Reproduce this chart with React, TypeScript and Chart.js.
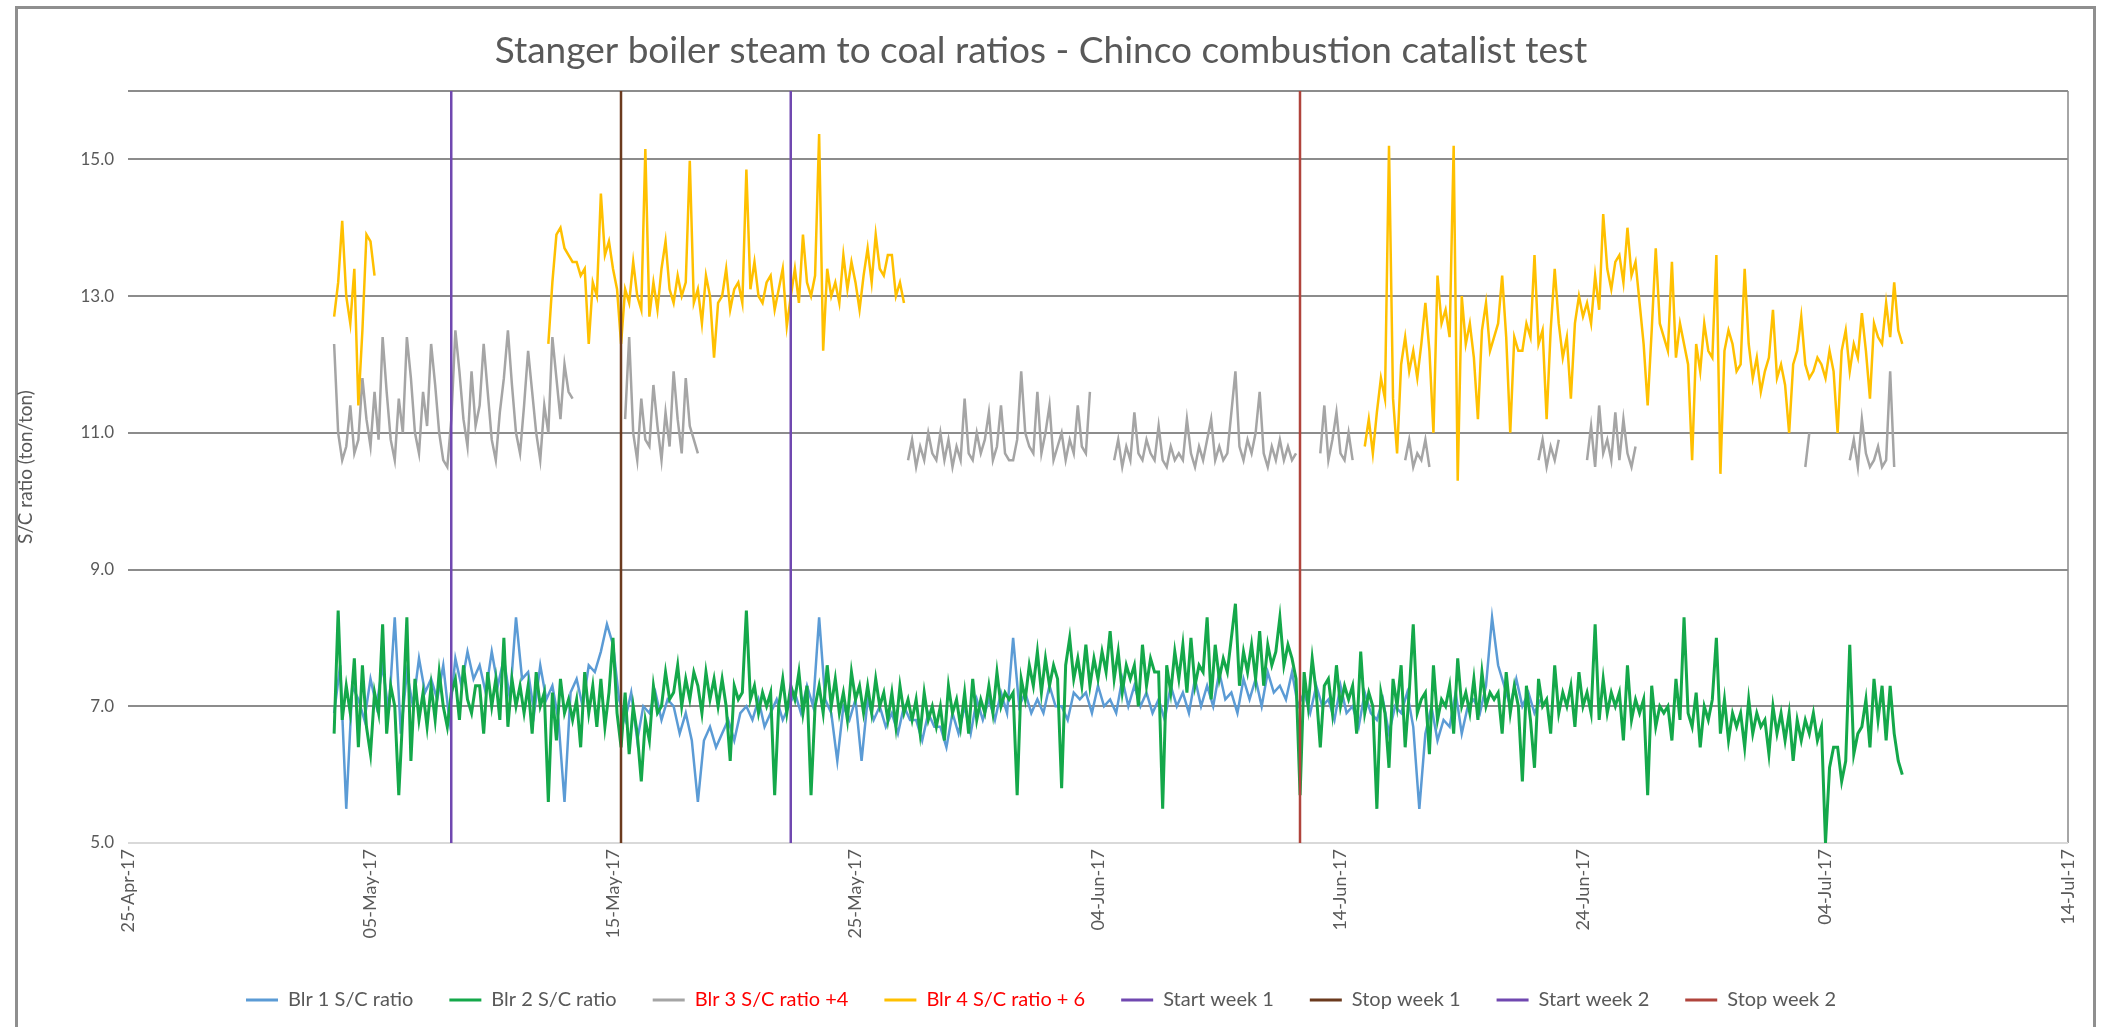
import { useEffect, useRef } from 'react';
import { Chart, registerables } from 'chart.js';

Chart.register(...registerables);

const _ = null;

// First reading 8.5 days after 25-Apr-17
const START_DAY = 8.5;
const STEP = 1 / 6; // Blr 2, 3, 4: every 4 hours
const STEP_BLR1 = 0.25; // Blr 1: every 6 hours

const seriesLabels = ['Blr 1 S/C ratio', 'Blr 2 S/C ratio', 'Blr 3 S/C ratio +4', 'Blr 4 S/C ratio + 6'];
const seriesColors = ['#5B9BD5', '#14A84A', '#A5A5A5', '#FFC000'];
const seriesWidths = [2.5, 3, 2.5, 2.5];

// Blr 1 S/C ratio (4 readings per day)
const blr1 = [
  6.9, 7.6, 5.5, 7.3, 7.1, 6.8, 7.4, 7.0, // 8.5, 9.5
  7.6, 6.9, 8.3, 6.6, 7.5, 7.0, 7.7, 7.2, // 10.5, 11.5
  7.4, 7.1, 7.6, 6.8, 7.7, 7.3, 7.8, 7.4, // 12.5, 13.5
  7.6, 7.2, 7.8, 7.3, 7.7, 7.1, 8.3, 7.4, // 14.5, 15.5
  7.5, 6.9, 7.6, 7.1, 7.3, 6.8, 5.6, 7.2, // 16.5, 17.5
  7.4, 7.0, 7.6, 7.5, 7.8, 8.2, 7.9, 7.1, // 18.5, 19.5
  6.8, 7.2, 6.5, 7.0, 6.9, 7.2, 6.8, 7.1, // 20.5, 21.5
  7.0, 6.6, 6.9, 6.5, 5.6, 6.5, 6.7, 6.4, // 22.5, 23.5
  6.6, 6.8, 6.5, 6.9, 7.0, 6.8, 7.1, 6.7, // 24.5, 25.5
  6.9, 7.1, 6.8, 7.0, 7.2, 6.9, 7.3, 7.0, // 26.5, 27.5
  8.3, 7.1, 6.9, 6.2, 7.0, 6.8, 7.1, 6.2, // 28.5, 29.5
  7.1, 6.8, 7.0, 6.7, 6.9, 6.6, 7.0, 6.8, // 30.5, 31.5
  6.8, 6.5, 6.9, 6.7, 6.7, 6.4, 6.9, 6.6, // 32.5, 33.5
  7.0, 6.6, 7.1, 6.8, 7.1, 6.8, 7.2, 6.9, // 34.5, 35.5
  8.0, 7.0, 7.2, 6.9, 7.1, 6.9, 7.3, 7.0, // 36.5, 37.5
  7.0, 6.8, 7.2, 7.1, 7.2, 6.9, 7.3, 7.0, // 38.5, 39.5
  7.1, 6.9, 7.4, 7.0, 7.3, 7.0, 7.2, 6.9, // 40.5, 41.5
  7.1, 6.8, 7.3, 7.0, 7.2, 6.9, 7.4, 7.0, // 42.5, 43.5
  7.3, 7.0, 7.5, 7.1, 7.2, 6.9, 7.4, 7.1, // 44.5, 45.5
  7.4, 7.0, 7.5, 7.2, 7.3, 7.1, 7.5, 7.0, // 46.5, 47.5
  7.2, 6.9, 7.3, 7.0, 7.1, 6.8, 7.3, 6.9, // 48.5, 49.5
  7.0, 6.7, 7.2, 6.9, 6.8, 7.1, 6.6, 7.0, // 50.5, 51.5
  6.9, 7.2, 6.7, 5.5, 6.6, 7.0, 6.5, 6.8, // 52.5, 53.5
  6.7, 7.2, 6.6, 7.0, 7.1, 6.9, 7.3, 8.3, // 54.5, 55.5
  7.6, 7.3, 7.0, 7.4, 7.0, 7.2, 6.9, 7.1, // 56.5, 57.5
];

// Blr 2 S/C ratio (6 readings per day, one row per day from 8.5)
const blr2 = [
  6.6, 8.4, 6.8, 7.3, 6.9, 7.7, // 8.5
  6.4, 7.6, 6.7, 6.3, 7.2, 6.9, // 9.5
  8.2, 6.6, 7.3, 7.0, 5.7, 6.9, // 10.5
  8.3, 6.2, 7.4, 6.8, 7.2, 6.7, // 11.5
  7.3, 6.8, 7.5, 7.0, 6.7, 7.2, // 12.5
  7.4, 6.8, 7.6, 7.1, 6.9, 7.3, // 13.5
  7.3, 6.6, 7.5, 7.0, 7.4, 6.8, // 14.5
  8.0, 6.7, 7.4, 7.0, 7.3, 6.9, // 15.5
  7.3, 6.6, 7.5, 7.0, 7.2, 5.6, // 16.5
  7.2, 6.5, 7.4, 6.9, 7.1, 6.8, // 17.5
  7.1, 6.4, 7.5, 6.9, 7.3, 6.7, // 18.5
  7.4, 6.7, 7.2, 8.0, 6.9, 6.4, // 19.5
  7.2, 6.3, 7.0, 6.6, 5.9, 6.8, // 20.5
  6.5, 7.3, 6.9, 7.0, 7.5, 7.1, // 21.5
  7.2, 7.6, 7.0, 7.4, 7.1, 7.5, // 22.5
  7.3, 6.9, 7.5, 7.1, 7.4, 7.0, // 23.5
  7.4, 7.0, 6.2, 7.3, 7.1, 7.2, // 24.5
  8.4, 7.1, 7.3, 6.9, 7.2, 7.0, // 25.5
  7.2, 5.7, 7.0, 7.4, 6.9, 7.3, // 26.5
  7.1, 7.5, 6.9, 7.3, 5.7, 7.0, // 27.5
  7.3, 6.9, 7.6, 7.0, 7.4, 6.9, // 28.5
  7.2, 6.8, 7.5, 7.1, 7.3, 6.9, // 29.5
  7.3, 6.9, 7.4, 7.0, 7.2, 6.8, // 30.5
  7.2, 6.7, 7.3, 6.9, 7.1, 6.8, // 31.5
  7.1, 6.6, 7.2, 6.8, 7.0, 6.7, // 32.5
  7.0, 6.5, 7.3, 6.9, 7.1, 6.7, // 33.5
  7.2, 6.6, 7.4, 6.8, 7.1, 6.9, // 34.5
  7.3, 6.9, 7.5, 7.0, 7.2, 7.1, // 35.5
  7.2, 5.7, 7.4, 7.1, 7.6, 7.3, // 36.5
  7.8, 7.2, 7.7, 7.3, 7.6, 7.4, // 37.5
  5.8, 7.6, 8.0, 7.4, 7.7, 7.3, // 38.5
  7.9, 7.3, 7.7, 7.4, 7.8, 7.5, // 39.5
  8.1, 7.4, 7.8, 7.2, 7.6, 7.4, // 40.5
  7.6, 7.0, 7.9, 7.3, 7.7, 7.5, // 41.5
  7.5, 5.5, 7.6, 7.2, 7.8, 7.4, // 42.5
  7.9, 7.2, 8.0, 7.3, 7.6, 7.5, // 43.5
  8.3, 7.1, 7.9, 7.4, 7.7, 7.5, // 44.5
  8.0, 8.5, 7.3, 7.8, 7.5, 7.9, // 45.5
  7.4, 8.1, 7.3, 7.9, 7.6, 7.8, // 46.5
  8.3, 7.6, 7.9, 7.7, 7.4, 5.7, // 47.5
  7.5, 7.0, 7.7, 7.2, 6.4, 7.3, // 48.5
  7.4, 6.9, 7.6, 7.0, 7.3, 7.1, // 49.5
  7.3, 6.6, 7.8, 6.9, 7.2, 7.0, // 50.5
  5.5, 7.2, 6.9, 6.1, 7.4, 7.0, // 51.5
  7.6, 6.4, 7.2, 8.2, 6.9, 7.1, // 52.5
  7.2, 6.3, 7.6, 6.8, 7.1, 7.0, // 53.5
  7.3, 6.6, 7.7, 7.0, 7.2, 6.9, // 54.5
  7.4, 6.8, 7.5, 7.0, 7.2, 7.1, // 55.5
  7.2, 6.6, 7.5, 6.9, 7.3, 7.0, // 56.5
  5.9, 7.3, 6.8, 6.1, 7.4, 7.0, // 57.5
  7.1, 6.6, 7.6, 6.9, 7.2, 7.0, // 58.5
  7.3, 6.7, 7.5, 7.0, 7.2, 6.9, // 59.5
  8.2, 6.8, 7.4, 6.9, 7.2, 7.0, // 60.5
  7.2, 6.5, 7.6, 6.8, 7.1, 6.9, // 61.5
  7.1, 5.7, 7.3, 6.7, 7.0, 6.9, // 62.5
  7.0, 6.5, 7.4, 6.8, 8.3, 6.9, // 63.5
  6.7, 7.2, 6.4, 7.0, 6.8, 7.1, // 64.5
  8.0, 6.6, 7.1, 6.5, 6.9, 6.7, // 65.5
  6.9, 6.4, 7.1, 6.6, 6.9, 6.7, // 66.5
  6.8, 6.3, 7.0, 6.6, 6.9, 6.5, // 67.5
  6.9, 6.2, 6.8, 6.5, 6.8, 6.6, // 68.5
  6.9, 6.5, 6.7, 5.0, 6.1, 6.4, // 69.5
  6.4, 5.9, 6.2, 7.9, 6.3, 6.6, // 70.5
  6.7, 7.1, 6.4, 7.4, 6.8, 7.3, // 71.5
  6.5, 7.3, 6.6, 6.2, 6.0, _, // 72.5
];

// Blr 3 S/C ratio + 4 (6 readings per day)
const blr3 = [
  12.3, 11.0, 10.6, 10.8, 11.4, 10.7, // 8.5
  10.9, 11.8, 11.2, 10.8, 11.6, 10.9, // 9.5
  12.4, 11.6, 10.9, 10.6, 11.5, 11.0, // 10.5
  12.4, 11.8, 11.0, 10.7, 11.6, 11.1, // 11.5
  12.3, 11.7, 11.0, 10.6, 10.5, 11.2, // 12.5
  12.5, 11.9, 11.2, 10.8, 11.9, 11.1, // 13.5
  11.4, 12.3, 11.6, 10.9, 10.6, 11.3, // 14.5
  11.8, 12.5, 11.7, 11.0, 10.7, 11.4, // 15.5
  12.2, 11.6, 11.0, 10.6, 11.4, 11.0, // 16.5
  12.4, 11.8, 11.2, 12.0, 11.6, 11.5, // 17.5
  _, _, _, _, _, _, // 18.5
  _, _, _, _, _, _, // 19.5
  11.2, 12.4, 11.0, 10.6, 11.5, 10.9, // 20.5
  10.8, 11.7, 11.1, 10.6, 11.3, 10.8, // 21.5
  11.9, 11.2, 10.7, 11.8, 11.1, 10.9, // 22.5
  10.7, _, _, _, _, _, // 23.5
  _, _, _, _, _, _, // 24.5
  _, _, _, _, _, _, // 25.5
  _, _, _, _, _, _, // 26.5
  _, _, _, _, _, _, // 27.5
  _, _, _, _, _, _, // 28.5
  _, _, _, _, _, _, // 29.5
  _, _, _, _, _, _, // 30.5
  _, _, _, _, 10.6, 10.9, // 31.5
  10.5, 10.8, 10.6, 11.0, 10.7, 10.6, // 32.5
  11.0, 10.6, 10.9, 10.5, 10.8, 10.6, // 33.5
  11.5, 10.7, 10.6, 11.0, 10.7, 10.9, // 34.5
  11.3, 10.6, 10.8, 11.4, 10.7, 10.6, // 35.5
  10.6, 10.9, 11.9, 11.0, 10.8, 10.7, // 36.5
  11.6, 10.7, 11.0, 11.4, 10.6, 10.8, // 37.5
  11.0, 10.6, 10.9, 10.7, 11.4, 10.8, // 38.5
  10.7, 11.6, _, _, _, _, // 39.5
  _, 10.6, 10.9, 10.5, 10.8, 10.6, // 40.5
  11.3, 10.7, 10.6, 10.9, 10.7, 10.6, // 41.5
  11.1, 10.6, 10.5, 10.8, 10.6, 10.7, // 42.5
  10.6, 11.2, 10.7, 10.5, 10.8, 10.6, // 43.5
  10.9, 11.2, 10.6, 10.8, 10.6, 10.7, // 44.5
  11.3, 11.9, 10.8, 10.6, 10.9, 10.7, // 45.5
  11.0, 11.6, 10.7, 10.5, 10.8, 10.6, // 46.5
  10.9, 10.6, 10.8, 10.6, 10.7, _, // 47.5
  _, _, _, _, 10.7, 11.4, // 48.5
  10.6, 10.9, 11.3, 10.7, 10.6, 11.0, // 49.5
  10.6, _, _, _, _, _, // 50.5
  _, _, _, _, _, _, // 51.5
  _, 10.6, 10.9, 10.5, 10.7, 10.6, // 52.5
  10.9, 10.5, _, _, _, _, // 53.5
  _, _, _, _, _, _, // 54.5
  _, _, _, _, _, _, // 55.5
  _, _, _, _, _, _, // 56.5
  _, _, _, _, 10.6, 10.9, // 57.5
  10.5, 10.8, 10.6, 10.9, _, _, // 58.5
  _, _, _, _, 10.6, 11.1, // 59.5
  10.5, 11.4, 10.7, 10.9, 10.6, 11.3, // 60.5
  10.6, 11.2, 10.7, 10.5, 10.8, _, // 61.5
  _, _, _, _, _, _, // 62.5
  _, _, _, _, _, _, // 63.5
  _, _, _, _, _, _, // 64.5
  _, _, _, _, _, _, // 65.5
  _, _, _, _, _, _, // 66.5
  _, _, _, _, _, _, // 67.5
  _, _, _, _, 10.5, 11.0, // 68.5
  _, _, _, _, _, _, // 69.5
  _, _, _, 10.6, 10.9, 10.5, // 70.5
  11.2, 10.7, 10.5, 10.6, 10.8, 10.5, // 71.5
  10.6, 11.9, 10.5, _, _, _, // 72.5
];

// Blr 4 S/C ratio + 6 (6 readings per day)
const blr4 = [
  12.7, 13.2, 14.1, 13.0, 12.6, 13.4, // 8.5
  11.4, 12.5, 13.9, 13.8, 13.3, _, // 9.5
  _, _, _, _, _, _, // 10.5
  _, _, _, _, _, _, // 11.5
  _, _, _, _, _, _, // 12.5
  _, _, _, _, _, _, // 13.5
  _, _, _, _, _, _, // 14.5
  _, _, _, _, _, _, // 15.5
  _, _, _, _, _, 12.3, // 16.5
  13.2, 13.9, 14.0, 13.7, 13.6, 13.5, // 17.5
  13.5, 13.3, 13.4, 12.3, 13.2, 13.0, // 18.5
  14.5, 13.6, 13.8, 13.4, 13.1, 12.3, // 19.5
  13.1, 12.9, 13.5, 13.0, 12.8, 15.15, // 20.5
  12.7, 13.2, 12.8, 13.4, 13.8, 13.1, // 21.5
  12.9, 13.3, 13.0, 13.2, 14.98, 12.9, // 22.5
  13.1, 12.6, 13.3, 13.0, 12.1, 12.9, // 23.5
  13.0, 13.4, 12.8, 13.1, 13.2, 12.9, // 24.5
  14.85, 13.1, 13.5, 13.0, 12.9, 13.2, // 25.5
  13.3, 12.8, 13.1, 13.4, 12.56, 13.0, // 26.5
  13.4, 12.9, 13.9, 13.2, 13.0, 13.3, // 27.5
  15.37, 12.2, 13.4, 13.0, 13.2, 12.9, // 28.5
  13.6, 13.1, 13.5, 13.2, 12.8, 13.3, // 29.5
  13.7, 13.2, 13.9, 13.4, 13.3, 13.6, // 30.5
  13.6, 13.0, 13.2, 12.9, _, _, // 31.5
  _, _, _, _, _, _, // 32.5
  _, _, _, _, _, _, // 33.5
  _, _, _, _, _, _, // 34.5
  _, _, _, _, _, _, // 35.5
  _, _, _, _, _, _, // 36.5
  _, _, _, _, _, _, // 37.5
  _, _, _, _, _, _, // 38.5
  _, _, _, _, _, _, // 39.5
  _, _, _, _, _, _, // 40.5
  _, _, _, _, _, _, // 41.5
  _, _, _, _, _, _, // 42.5
  _, _, _, _, _, _, // 43.5
  _, _, _, _, _, _, // 44.5
  _, _, _, _, _, _, // 45.5
  _, _, _, _, _, _, // 46.5
  _, _, _, _, _, _, // 47.5
  _, _, _, _, _, _, // 48.5
  _, _, _, _, _, _, // 49.5
  _, _, _, 10.8, 11.2, 10.7, // 50.5
  11.3, 11.8, 11.5, 15.2, 11.5, 10.7, // 51.5
  12.0, 12.4, 11.9, 12.2, 11.8, 12.3, // 52.5
  12.9, 12.2, 11.0, 13.3, 12.6, 12.8, // 53.5
  12.4, 15.2, 10.3, 13.0, 12.3, 12.6, // 54.5
  12.1, 11.2, 12.5, 12.9, 12.2, 12.4, // 55.5
  12.6, 13.3, 12.4, 11.0, 12.4, 12.2, // 56.5
  12.2, 12.6, 12.4, 13.6, 12.3, 12.5, // 57.5
  11.2, 12.5, 13.4, 12.6, 12.1, 12.4, // 58.5
  11.5, 12.6, 13.0, 12.7, 12.9, 12.6, // 59.5
  13.3, 12.8, 14.2, 13.4, 13.1, 13.5, // 60.5
  13.6, 13.2, 14.0, 13.3, 13.5, 12.9, // 61.5
  12.3, 11.4, 12.5, 13.7, 12.6, 12.4, // 62.5
  12.2, 13.5, 12.1, 12.6, 12.3, 12.0, // 63.5
  10.6, 12.3, 11.9, 12.6, 12.2, 12.1, // 64.5
  13.6, 10.4, 12.2, 12.5, 12.3, 11.9, // 65.5
  12.0, 13.4, 12.3, 11.8, 12.1, 11.6, // 66.5
  11.9, 12.1, 12.8, 11.8, 12.0, 11.7, // 67.5
  11.0, 12.0, 12.2, 12.7, 12.0, 11.8, // 68.5
  11.9, 12.1, 12.0, 11.8, 12.2, 11.9, // 69.5
  11.0, 12.2, 12.5, 11.9, 12.3, 12.1, // 70.5
  12.75, 12.2, 11.5, 12.6, 12.4, 12.3, // 71.5
  12.9, 12.4, 13.2, 12.5, 12.3, _, // 72.5
];

// Test markers (days after 25-Apr-17)
const markerLabels = ['Start week 1', 'Stop week 1', 'Start week 2', 'Stop week 2'];
const markerDays = [13.33, 20.33, 27.33, 48.33];
const markerColors = ['#7048B0', '#6B3A1E', '#7048B0', '#B0443C'];

const Y_MIN = 5;
const Y_MAX = 16;
const yTickValues = [5, 7, 9, 11, 13, 15, 16];
const X_MAX = 80;
const X_STEP = 10;
const MONTHS = ['Jan', 'Feb', 'Mar', 'Apr', 'May', 'Jun', 'Jul', 'Aug', 'Sep', 'Oct', 'Nov', 'Dec'];

function dayLabel(d: number) {
  const dt = new Date(2017, 3, 25 + d);
  return String(dt.getDate()).padStart(2, '0') + '-' + MONTHS[dt.getMonth()] + '-' + String(dt.getFullYear()).slice(2);
}

function toPoints(values: (number | null)[], step: number) {
  return values.map((v, i) => ({ x: START_DAY + i * step, y: v }));
}

const FONT = 'Lato, "Open Sans", sans-serif';
const TEXT = '#595959';

const framePlugin = {
  id: 'frame',
  beforeDraw(chart: any) {
    const { ctx } = chart;
    ctx.save();
    ctx.fillStyle = '#ffffff';
    ctx.fillRect(0, 0, chart.width, chart.height);
    ctx.strokeStyle = '#8f8f8f';
    ctx.lineWidth = 3;
    ctx.strokeRect(16.5, 7.5, 2078, 1040);
    ctx.restore();
  },
};

export default function App() {
  const ref = useRef<HTMLCanvasElement>(null);

  useEffect(() => {
    const allSeries = [blr1, blr2, blr3, blr4];
    const steps = [STEP_BLR1, STEP, STEP, STEP];
    const datasets: any[] = allSeries.map((vals, i) => ({
      label: seriesLabels[i],
      data: toPoints(vals, steps[i]),
      borderColor: seriesColors[i],
      backgroundColor: seriesColors[i],
      borderWidth: seriesWidths[i],
      pointRadius: 0,
      spanGaps: false,
      tension: 0,
      order: 5 - i,
    }));
    markerDays.forEach((d, i) => {
      datasets.push({
        label: markerLabels[i],
        data: [{ x: d, y: Y_MIN }, { x: d, y: Y_MAX }],
        borderColor: markerColors[i],
        backgroundColor: markerColors[i],
        borderWidth: 2.5,
        pointRadius: 0,
        order: 0,
      });
    });

    const chart = new Chart(ref.current as HTMLCanvasElement, {
      type: 'line',
      data: { datasets },
      plugins: [framePlugin],
      options: {
        responsive: false,
        animation: false,
        devicePixelRatio: 1,
        layout: { padding: { left: 14, right: 38, top: 10, bottom: 7 } },
        plugins: {
          tooltip: { enabled: false },
          title: {
            display: true,
            text: 'Stanger boiler steam to coal ratios - Chinco combustion catalist test',
            color: TEXT,
            font: { family: FONT, size: 37, weight: 'normal' },
            padding: { top: 18.8, bottom: 17.8 },
          },
          legend: {
            position: 'bottom',
            labels: {
              font: { family: FONT, size: 20 },
              boxWidth: 32,
              boxHeight: 3,
              padding: 36,
              generateLabels: (ch: any) =>
                ch.data.datasets.map((ds: any, i: number) => ({
                  text: ds.label,
                  fillStyle: ds.borderColor,
                  strokeStyle: ds.borderColor,
                  lineWidth: 0,
                  fontColor: i === 2 || i === 3 ? '#FF0000' : TEXT,
                  hidden: false,
                  datasetIndex: i,
                })),
            },
          },
        },
        scales: {
          x: {
            type: 'linear',
            min: 0,
            max: X_MAX,
            afterFit: (scale: any) => {
              scale.height = 111;
            },
            border: { display: false },
            grid: {
              drawTicks: false,
              lineWidth: 2,
              color: (c: any) => (c.tick && c.tick.value === X_MAX ? '#a6a6a6' : 'rgba(0,0,0,0)'),
            },
            ticks: {
              stepSize: X_STEP,
              autoSkip: false,
              maxRotation: 90,
              minRotation: 90,
              padding: 6,
              color: TEXT,
              font: { family: FONT, size: 18 },
              callback: (v: any) => dayLabel(Number(v)),
            },
          },
          y: {
            type: 'linear',
            min: Y_MIN,
            max: Y_MAX,
            afterFit: (scale: any) => {
              scale.width = 114;
            },
            afterBuildTicks: (scale: any) => {
              scale.ticks = yTickValues.map((v) => ({ value: v }));
            },
            border: { display: false },
            grid: {
              drawTicks: false,
              lineWidth: 2,
              color: (c: any) => (c.tick && c.tick.value === Y_MIN ? '#d9d9d9' : '#8c8c8c'),
            },
            title: {
              display: true,
              text: 'S/C ratio (ton/ton)',
              color: TEXT,
              font: { family: FONT, size: 19 },
              padding: { top: 0, bottom: 0 },
            },
            ticks: {
              padding: 14,
              color: TEXT,
              font: { family: FONT, size: 17 },
              callback: (v: any) => (Number(v) === Y_MAX ? '' : Number(v).toFixed(1)),
            },
          },
        },
      },
    });
    return () => chart.destroy();
  }, []);

  return (
    <div style={{ position: 'fixed', left: 0, top: 0, width: 2106, height: 1027, background: '#fff' }}>
      <canvas ref={ref} width={2106} height={1027} style={{ width: 2106, height: 1027, display: 'block' }} />
    </div>
  );
}
